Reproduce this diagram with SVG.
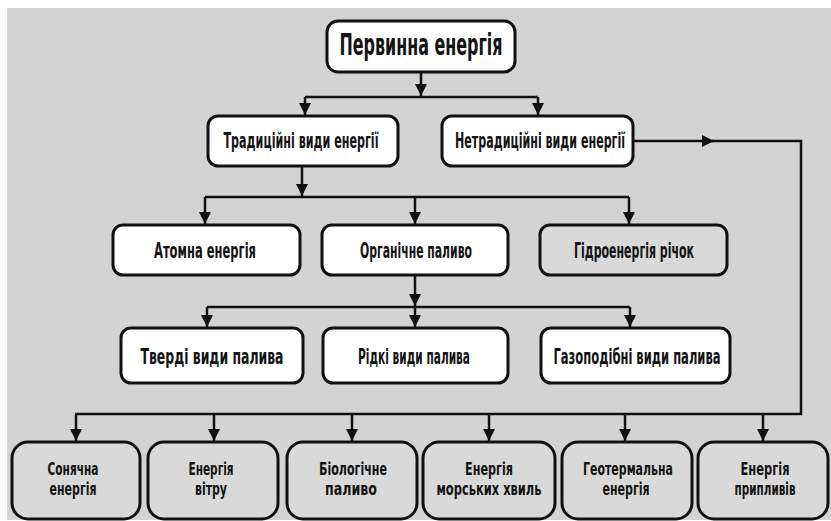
<svg xmlns="http://www.w3.org/2000/svg" width="831" height="521" viewBox="0 0 831 521">
<style>
.box{stroke:#111;stroke-width:3;fill:#fff}
.gbox{stroke:#111;stroke-width:3;fill:#d9d9d9}
.t{font-family:"DejaVu Sans Condensed","Liberation Sans Narrow","DejaVu Sans",sans-serif;font-weight:bold;fill:#141414;text-anchor:middle}
.c{fill:none;stroke:#111;stroke-width:2.5}
</style>
<defs>
<marker id="ah" viewBox="0 0 12 12" refX="12" refY="6" markerWidth="12" markerHeight="12" markerUnits="userSpaceOnUse" orient="auto">
<path d="M0,0 L12,6 L0,12 Z" fill="#111"/>
</marker>
</defs>
<rect x="7" y="8" width="824" height="512" fill="#d3d3d3"/>
<g id="connectors">
<path class="c" d="M421 72 V96" marker-end="url(#ah)"/>
<path class="c" d="M305 97 H538"/>
<path class="c" d="M305 97 V115" marker-end="url(#ah)"/>
<path class="c" d="M538 97 V115" marker-end="url(#ah)"/>
<path class="c" d="M302 166 V196" marker-end="url(#ah)"/>
<path class="c" d="M205 197 H629"/>
<path class="c" d="M205 197 V224" marker-end="url(#ah)"/>
<path class="c" d="M415 197 V224" marker-end="url(#ah)"/>
<path class="c" d="M629 197 V224" marker-end="url(#ah)"/>
<path class="c" d="M415 275 V306" marker-end="url(#ah)"/>
<path class="c" d="M207 307 H630"/>
<path class="c" d="M207 307 V327" marker-end="url(#ah)"/>
<path class="c" d="M415 307 V327" marker-end="url(#ah)"/>
<path class="c" d="M630 307 V327" marker-end="url(#ah)"/>
<path class="c" d="M633 141 H714" marker-end="url(#ah)"/>
<path class="c" d="M712 141 H801 V414 H75"/>
<path class="c" d="M76 414 V441" marker-end="url(#ah)"/>
<path class="c" d="M214 414 V441" marker-end="url(#ah)"/>
<path class="c" d="M352 414 V441" marker-end="url(#ah)"/>
<path class="c" d="M489 414 V441" marker-end="url(#ah)"/>
<path class="c" d="M625 414 V441" marker-end="url(#ah)"/>
<path class="c" d="M763 414 V441" marker-end="url(#ah)"/>
</g>
<g id="n-primary"><rect class="box" x="327" y="21" width="188" height="51" rx="11"/><text class="t" x="421" y="55" font-size="30" textLength="163" lengthAdjust="spacingAndGlyphs">Первинна енергія</text></g>
<g id="n-trad"><rect class="box" x="208" y="116" width="190" height="50" rx="10"/><text class="t" x="301" y="148" font-size="21" textLength="155" lengthAdjust="spacingAndGlyphs">Традиційні види енергії</text></g>
<g id="n-nontrad"><rect class="box" x="442" y="116" width="191" height="50" rx="10"/><text class="t" x="540" y="148" font-size="21" textLength="170" lengthAdjust="spacingAndGlyphs">Нетрадиційні види енергії</text></g>
<g id="n-atom"><rect class="box" x="113" y="225" width="187" height="50" rx="10"/><text class="t" x="205" y="258" font-size="21" textLength="102" lengthAdjust="spacingAndGlyphs">Атомна енергія</text></g>
<g id="n-organic"><rect class="box" x="322" y="225" width="186" height="50" rx="10"/><text class="t" x="416" y="258" font-size="21" textLength="112" lengthAdjust="spacingAndGlyphs">Органічне паливо</text></g>
<g id="n-hydro"><rect class="gbox" x="540" y="225" width="187" height="50" rx="10"/><text class="t" x="634" y="258" font-size="21" textLength="120" lengthAdjust="spacingAndGlyphs">Гідроенергія річок</text></g>
<g id="n-solid"><rect class="box" x="121" y="328" width="182" height="55" rx="10"/><text class="t" x="212" y="364" font-size="21" textLength="143" lengthAdjust="spacingAndGlyphs">Тверді види палива</text></g>
<g id="n-liquid"><rect class="box" x="323" y="328" width="185" height="55" rx="10"/><text class="t" x="414" y="364" font-size="21" textLength="112" lengthAdjust="spacingAndGlyphs">Рідкі види палива</text></g>
<g id="n-gas"><rect class="box" x="541" y="328" width="189" height="55" rx="10"/><text class="t" x="637" y="364" font-size="21" textLength="167" lengthAdjust="spacingAndGlyphs">Газоподібні види палива</text></g>
<g id="n-solar"><rect class="gbox" x="12" y="442" width="128" height="77" rx="16"/><text class="t" x="73" y="475" font-size="17" textLength="51" lengthAdjust="spacingAndGlyphs">Сонячна</text><text class="t" x="73" y="495" font-size="17" textLength="47" lengthAdjust="spacingAndGlyphs">енергія</text></g>
<g id="n-wind"><rect class="gbox" x="148" y="442" width="130" height="77" rx="16"/><text class="t" x="211" y="475" font-size="17" textLength="45" lengthAdjust="spacingAndGlyphs">Енергія</text><text class="t" x="211" y="495" font-size="17" textLength="32" lengthAdjust="spacingAndGlyphs">вітру</text></g>
<g id="n-bio"><rect class="gbox" x="287" y="442" width="130" height="77" rx="16"/><text class="t" x="353" y="475" font-size="17" textLength="68" lengthAdjust="spacingAndGlyphs">Біологічне</text><text class="t" x="351" y="495" font-size="17" textLength="52" lengthAdjust="spacingAndGlyphs">паливо</text></g>
<g id="n-wave"><rect class="gbox" x="423" y="442" width="132" height="77" rx="16"/><text class="t" x="489" y="475" font-size="17" textLength="48" lengthAdjust="spacingAndGlyphs">Енергія</text><text class="t" x="489" y="495" font-size="17" textLength="105" lengthAdjust="spacingAndGlyphs">морських хвиль</text></g>
<g id="n-geo"><rect class="gbox" x="562" y="442" width="130" height="77" rx="16"/><text class="t" x="628" y="475" font-size="17" textLength="90" lengthAdjust="spacingAndGlyphs">Геотермальна</text><text class="t" x="626" y="495" font-size="17" textLength="47" lengthAdjust="spacingAndGlyphs">енергія</text></g>
<g id="n-tide"><rect class="gbox" x="698" y="442" width="130" height="77" rx="16"/><text class="t" x="765" y="475" font-size="17" textLength="49" lengthAdjust="spacingAndGlyphs">Енергія</text><text class="t" x="765" y="495" font-size="17" textLength="61" lengthAdjust="spacingAndGlyphs">припливів</text></g>
</svg>
